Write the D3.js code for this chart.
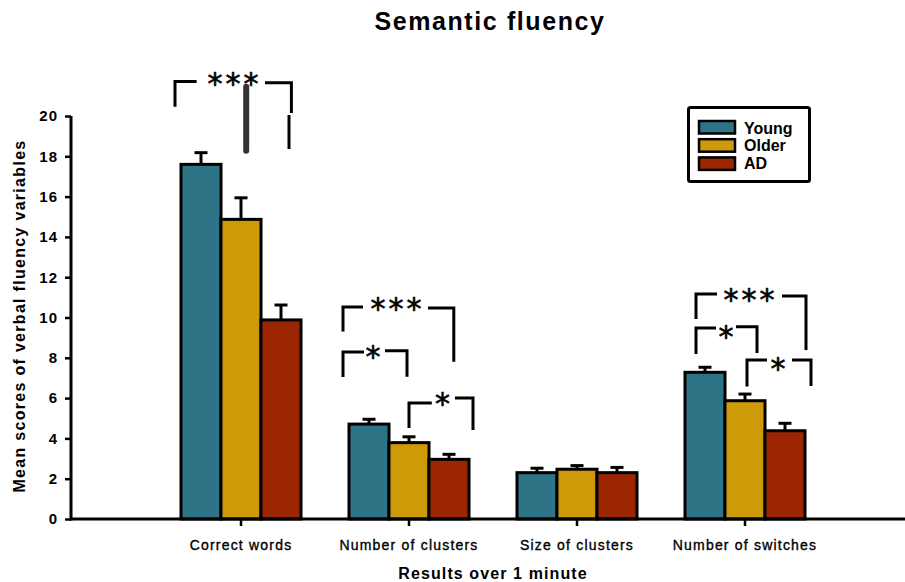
<!DOCTYPE html>
<html>
<head>
<meta charset="utf-8">
<script src="https://cdn.jsdelivr.net/npm/d3@7"></script>
<style>
  html, body { margin: 0; padding: 0; background: #fff; }
  svg { display: block; font-family: "Liberation Sans", Arial, sans-serif; }
</style>
</head>
<body>
<svg id="chart" width="905" height="582"></svg>
<script>
// ---------- data ----------
const categories = ["Correct words", "Number of clusters", "Size of clusters", "Number of switches"];
const seriesNames = ["Young", "Older", "AD"];
const seriesColors = ["#2E7487", "#CF9A08", "#9C2602"];
const youngMeans = [17.6, 4.71, 2.30, 7.28];
const youngErrors = [0.58, 0.24, 0.22, 0.25];
const olderMeans = [14.87, 3.79, 2.47, 5.87];
const olderErrors = [1.07, 0.29, 0.18, 0.33];
const adMeans = [9.88, 2.96, 2.30, 4.38];
const adErrors = [0.74, 0.25, 0.26, 0.37];
const yTicks = [0, 2, 4, 6, 8, 10, 12, 14, 16, 18, 20];

// significance brackets: x in bar-slot units within a group (0 = left edge of first bar, 3 = right edge of last bar), y in data units
const bracketCats   = ["Correct words", "Number of clusters", "Number of clusters", "Number of clusters", "Number of switches", "Number of switches", "Number of switches"];
const bracketLabels = ["***", "***", "*", "*", "***", "*", "*"];
const bracketX1     = [-0.15, -0.15, -0.15, 1.50, 0.275, 0.275, 1.55];
const bracketX2     = [2.76, 2.62, 1.45, 3.10, 3.025, 1.80, 3.15];
const bracketGap1   = [0.39, 0.35, 0.375, 2.07, 0.80, 0.775, 2.05];
const bracketGap2   = [2.10, 1.975, 0.90, 2.65, 2.425, 1.275, 2.675];
const bracketTopL   = [21.71, 10.52, 8.29, 5.76, 11.17, 9.48, 7.89];
const bracketTopR   = [21.65, 10.47, 8.35, 6.00, 11.07, 9.54, 7.89];
const bracketLeftY  = [20.46, 9.30, 7.05, 4.52, 9.93, 8.19, 6.57];
const bracketRightY = [20.15, 7.81, 7.06, 4.42, 8.39, 8.24, 6.60];
const bracketStarX  = [1.30, 1.175, 0.60, 2.34, 1.60, 1.025, 2.325];
const bracketStarY  = [21.95, 10.78, 8.39, 6.05, 11.23, 9.38, 7.81];
// extra stray strokes in the original figure (Correct words group)
const extraCats  = ["Correct words", "Correct words"];
const extraX     = [2.70, 1.63];
const extraY1    = [20.05, 21.45];
const extraY2    = [18.36, 18.28];
const extraColor = ["#000", "#333"];
const extraWidth = [3, 6];

// ---------- layout ----------
const svg = d3.select("#chart");
const W = 905, H = 582;
const axisX = 71, axisBottomY = 519;

const y = d3.scaleLinear().domain([0, 20]).range([519, 116]);
const x0 = d3.scaleBand().domain(categories).range([157, 829])
  .paddingInner(48 / 168).paddingOuter(24 / 168);
const x1 = d3.scaleBand().domain(seriesNames).range([0, x0.bandwidth()]);
const slot = d3.scaleLinear().domain([0, 3]).range([0, x0.bandwidth()]);

const seriesData = [
  { name: "Young", means: youngMeans, errs: youngErrors },
  { name: "Older", means: olderMeans, errs: olderErrors },
  { name: "AD", means: adMeans, errs: adErrors }
];
const color = d3.scaleOrdinal().domain(seriesNames).range(seriesColors);

// ---------- title ----------
svg.append("text")
  .attr("x", 490).attr("y", 29.5)
  .attr("text-anchor", "middle")
  .style("font-size", "25px").style("font-weight", "bold")
  .style("letter-spacing", "1.6px")
  .text("Semantic fluency");

// ---------- bars ----------
const bars = [];
seriesData.forEach(s => {
  categories.forEach((c, i) => bars.push({ cat: c, series: s.name, v: s.means[i], e: s.errs[i] }));
});

const g = svg.append("g");
const eb = g.selectAll(".err").data(bars).join("g").attr("class", "err");
eb.append("line")
  .attr("x1", d => x0(d.cat) + x1(d.series) + x1.bandwidth() / 2)
  .attr("x2", d => x0(d.cat) + x1(d.series) + x1.bandwidth() / 2)
  .attr("y1", d => y(d.v)).attr("y2", d => y(d.v + d.e))
  .attr("stroke", "#000").attr("stroke-width", 3);
eb.append("line")
  .attr("x1", d => x0(d.cat) + x1(d.series) + x1.bandwidth() / 2 - 6.5)
  .attr("x2", d => x0(d.cat) + x1(d.series) + x1.bandwidth() / 2 + 6.5)
  .attr("y1", d => y(d.v + d.e)).attr("y2", d => y(d.v + d.e))
  .attr("stroke", "#000").attr("stroke-width", 3);

g.selectAll(".bar").data(bars).join("rect").attr("class", "bar")
  .attr("x", d => x0(d.cat) + x1(d.series))
  .attr("width", x1.bandwidth())
  .attr("y", d => y(d.v))
  .attr("height", d => y(0) - y(d.v))
  .attr("fill", d => color(d.series))
  .attr("stroke", "#000").attr("stroke-width", 3);

// ---------- axes ----------
const yAxis = svg.append("g").attr("transform", `translate(${axisX},0)`)
  .call(d3.axisLeft(y).tickValues(yTicks).tickSize(6).tickSizeOuter(0).tickPadding(7));
yAxis.select(".domain").attr("stroke-width", 3).attr("d", `M0,${y(20)}V${axisBottomY + 1.5}`);
yAxis.selectAll(".tick line").attr("stroke-width", 2.5);
yAxis.selectAll(".tick text")
  .style("font-size", "15px").style("font-weight", "bold").style("font-family", "Liberation Sans, Arial, sans-serif")
  .style("letter-spacing", "1px")
  .attr("fill", "#000");

const xAxis = svg.append("g").attr("transform", `translate(0,${axisBottomY})`)
  .call(d3.axisBottom(x0).tickSize(7).tickSizeOuter(0).tickPadding(14));
xAxis.select(".domain").attr("d", `M${axisX},0H${W}`).attr("stroke-width", 3);
xAxis.selectAll(".tick line").attr("stroke-width", 2.5);
xAxis.selectAll(".tick text")
  .style("font-size", "14px").style("font-family", "Liberation Sans, Arial, sans-serif")
  .style("letter-spacing", "1.2px")
  .style("stroke", "#000").style("stroke-width", "0.35px")
  .attr("fill", "#000");

// axis titles
svg.append("text")
  .attr("transform", `translate(25,316) rotate(-90)`)
  .attr("text-anchor", "middle")
  .style("font-size", "16px").style("font-weight", "bold")
  .style("letter-spacing", "1.3px")
  .text("Mean scores of verbal fluency variables");

svg.append("text")
  .attr("x", 493).attr("y", 578.5)
  .attr("text-anchor", "middle")
  .style("font-size", "16px").style("font-weight", "bold")
  .style("letter-spacing", "1.1px")
  .text("Results over 1 minute");

// ---------- brackets ----------
const bg = svg.append("g").attr("fill", "none").attr("stroke", "#000").attr("stroke-width", 3);
bracketCats.forEach((c, i) => {
  const gx = u => x0(c) + slot(u);
  const p = d3.path();
  p.moveTo(gx(bracketX1[i]), y(bracketLeftY[i]));
  p.lineTo(gx(bracketX1[i]), y(bracketTopL[i]));
  p.lineTo(gx(bracketGap1[i]), y(bracketTopL[i]));
  p.moveTo(gx(bracketGap2[i]), y(bracketTopR[i]));
  p.lineTo(gx(bracketX2[i]), y(bracketTopR[i]));
  p.lineTo(gx(bracketX2[i]), y(bracketRightY[i]));
  bg.append("path").attr("d", p.toString());
  const multi = bracketLabels[i].length > 1;
  svg.append("text")
    .attr("x", gx(bracketStarX[i]))
    .attr("y", y(bracketStarY[i]) + 17)
    .attr("text-anchor", "middle")
    .style("font-family", "'DejaVu Sans', sans-serif")
    .style("font-size", "30px")
    .style("stroke", "#000").style("stroke-width", "0.6px")
    .style("letter-spacing", multi ? "3px" : "0px")
    .attr("dx", multi ? "1.5px" : "0")
    .text(bracketLabels[i]);
});
extraCats.forEach((c, i) => {
  svg.append("line")
    .attr("x1", x0(c) + slot(extraX[i])).attr("x2", x0(c) + slot(extraX[i]))
    .attr("y1", y(extraY1[i])).attr("y2", y(extraY2[i]))
    .attr("stroke", extraColor[i]).attr("stroke-width", extraWidth[i])
    .attr("stroke-linecap", extraWidth[i] > 3 ? "round" : "butt");
});

// ---------- legend ----------
const lg = svg.append("g");
lg.append("rect").attr("x", 688.5).attr("y", 107.5).attr("width", 121).attr("height", 74)
  .attr("rx", 2).attr("fill", "#fff").attr("stroke", "#000").attr("stroke-width", 3);
seriesNames.forEach((s, i) => {
  lg.append("rect").attr("x", 699).attr("y", 121 + i * 18.2).attr("width", 36).attr("height", 12.5)
    .attr("fill", color(s)).attr("stroke", "#000").attr("stroke-width", 2.5);
  lg.append("text").attr("x", 744).attr("y", 133.5 + i * 17.6)
    .style("font-size", "16px").style("font-weight", "bold").text(s);
});
</script>
</body>
</html>
